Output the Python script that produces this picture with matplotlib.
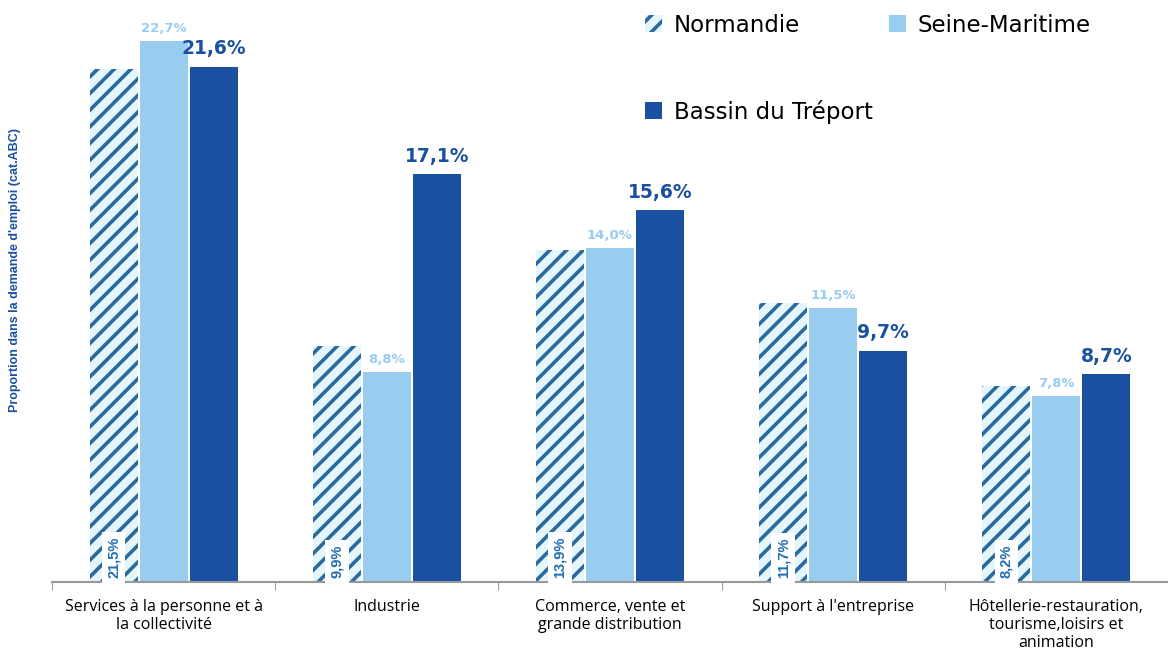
import numpy as np
import matplotlib.pyplot as plt

# Data
categories = ["Services à la personne et à\nla collectivité", "Industrie",
              "Commerce, vente et\ngrande distribution", "Support à l'entreprise",
              "Hôtellerie-restauration,\ntourisme,loisirs et\nanimation"]
normandie = [21.5, 9.9, 13.9, 11.7, 8.2]
seine_maritime = [22.7, 8.8, 14.0, 11.5, 7.8]
bassin = [21.6, 17.1, 15.6, 9.7, 8.7]

light_blue = '#99cdf0'
dark_blue = '#1950a0'
hatch_blue = '#2a6a9e'

plt.rcParams['hatch.linewidth'] = 2.6

fig = plt.figure(figsize=(11.68, 6.55), dpi=100)
ax = fig.add_axes([52 / 1168, 73 / 655, 1116 / 1168, 582 / 655])

x = np.arange(len(categories))
w = 0.215
off = 0.224

b1 = ax.bar(x - off, normandie, w, color='#e4f5fc', edgecolor=hatch_blue,
            hatch='//', linewidth=0, label='Normandie')
b2 = ax.bar(x, seine_maritime, w, color=light_blue, label='Seine-Maritime')
b3 = ax.bar(x + off, bassin, w, color=dark_blue, label='Bassin du Tréport')

for xi, v in zip(x, normandie):
    ax.text(xi - off, 0.15, f"{v:.1f}%".replace('.', ','), rotation=90,
            ha='center', va='bottom', fontsize=10.5, fontweight='bold',
            color='#1f6db3', family='Liberation Sans',
            bbox=dict(facecolor='white', edgecolor='none', pad=3.5))
for xi, v in zip(x, seine_maritime):
    ax.text(xi, v + 0.25, f"{v:.1f}%".replace('.', ','), ha='center',
            va='bottom', fontsize=9.5, fontweight='bold', color=light_blue,
            family='DejaVu Sans')
for xi, v in zip(x, bassin):
    ax.text(xi + off, v + 0.35, f"{v:.1f}%".replace('.', ','), ha='center',
            va='bottom', fontsize=13.5, fontweight='bold', color=dark_blue,
            family='DejaVu Sans')

ax.set_xlim(-0.5, 4.5)
ax.set_ylim(0, 24.4)
ax.set_xticks(x)
ax.set_xticklabels(categories, fontsize=11.5, family='Open Sans')
ax.set_xticks(np.arange(-0.5, 4.6, 1), minor=True)
ax.tick_params(axis='x', which='major', length=0, pad=12)
ax.tick_params(axis='x', which='minor', length=6, color='#888888')
ax.set_yticks([])
for s in ['top', 'right', 'left']:
    ax.spines[s].set_visible(False)
ax.spines['bottom'].set_color('#999999')
ax.spines['bottom'].set_linewidth(1.5)

fig.text(15 / 1168, 1 - 270 / 655, "Proportion dans la demande d'emploi (cat.ABC)",
         rotation=90, ha='center', va='center', fontsize=9, fontweight='bold',
         color='#1950a0', family='Liberation Sans')

ax.legend([b1, b3, b2], ['Normandie', 'Bassin du Tréport', 'Seine-Maritime'],
          loc='upper left', bbox_to_anchor=(0.513, 1.012), ncol=2, frameon=False,
          handlelength=0.75, handleheight=0.75, labelspacing=2.75,
          columnspacing=0.7, handletextpad=0.5,
          prop={'family': 'DejaVu Sans', 'size': 16.5})

fig.savefig('out.png', dpi=100)
plt.close()
